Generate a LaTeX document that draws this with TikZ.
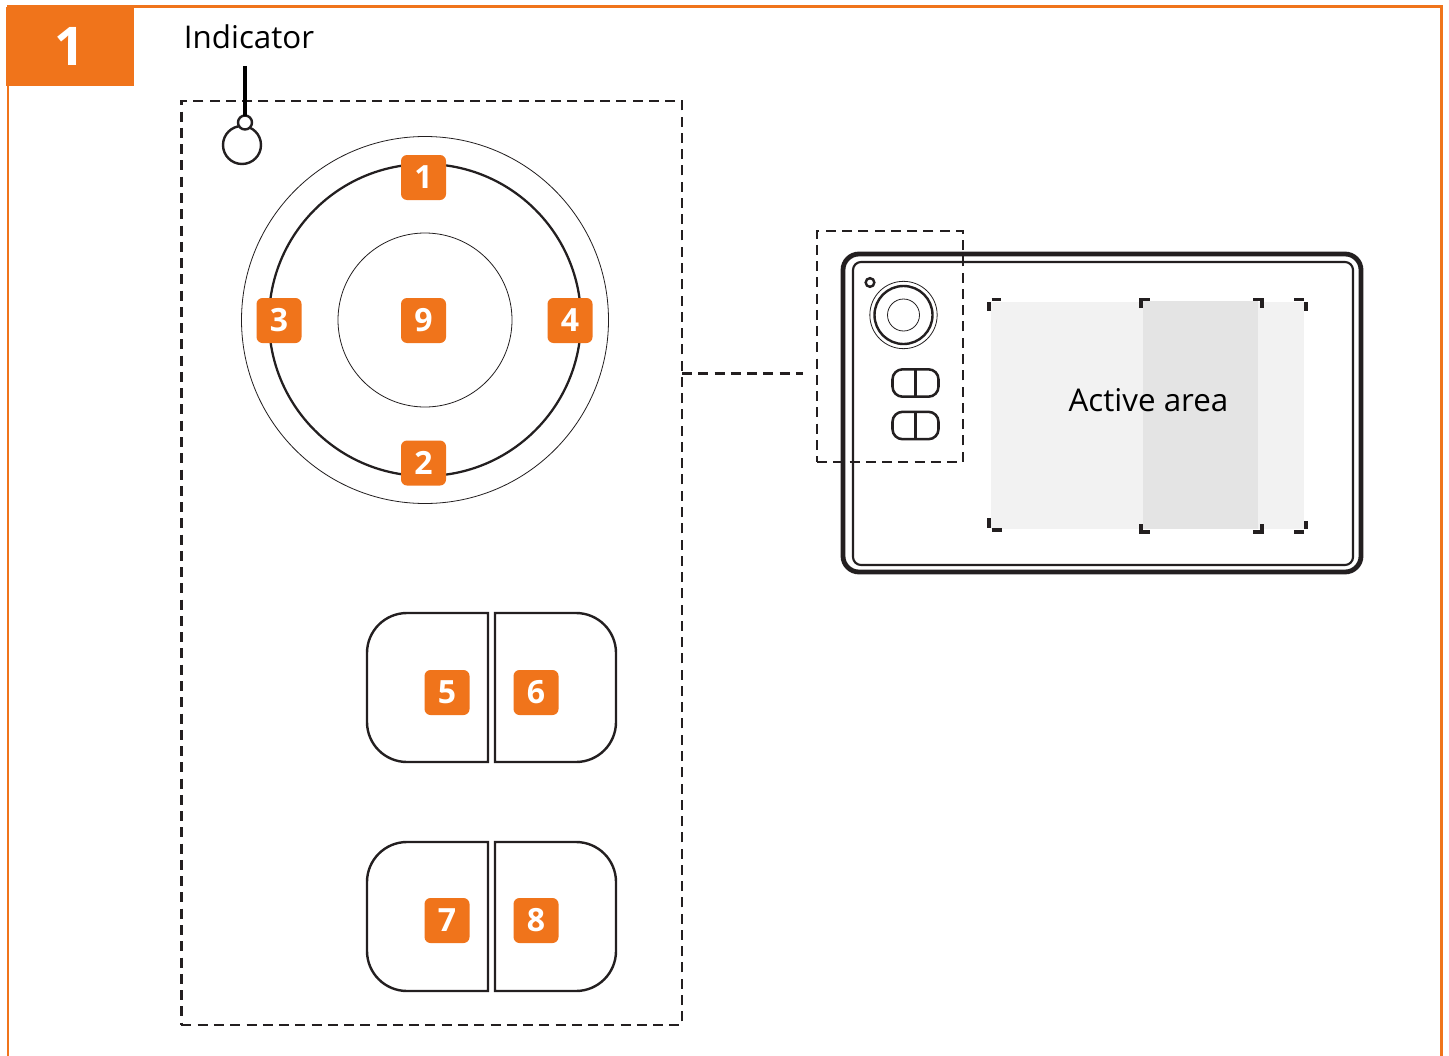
\documentclass[tikz,border=0pt]{standalone}
\usepackage{fontspec}
\setmainfont{Open Sans}
\definecolor{brand}{HTML}{F0741B}
\definecolor{ink}{HTML}{231F20}
\definecolor{areaLight}{HTML}{F2F2F2}
\definecolor{areaDark}{HTML}{E4E4E4}
\newcommand{\dg}[1]{\raisebox{-0.7pt}{#1}}
\tikzset{
  px/.style={x=0.75pt,y=-0.75pt},
  badge/.style={fill=brand,rounded corners=4.5pt,minimum size=33.75pt,inner sep=0pt,outer sep=0pt,text=white,font=\fontsize{24}{24}\selectfont\bfseries},
  ring/.style={circle,draw=ink,inner sep=0pt,outer sep=0pt},
  thinline/.style={draw=ink,line width=0.6pt},
  midline/.style={draw=ink,line width=1.7pt},
  dashbox/.style={draw=ink,line width=2pt,dash pattern=on 7.5pt off 4.7pt,inner sep=0pt,outer sep=0pt},
  halfbtn/.style={draw=ink,line width=1.8pt,line join=miter},
  minibtn/.style={draw=ink,line width=1.9pt,rounded corners=7.5pt,inner sep=0pt,outer sep=0pt,minimum width=34.5pt,minimum height=20.5pt},
  tick/.style={draw=ink,line width=2.5pt},
  label/.style={text=black,font=\fontsize{23.5}{24}\selectfont,inner sep=0pt},
}
\begin{document}
\begin{tikzpicture}[px]
\useasboundingbox (0,0) rectangle (1449,1056);
\fill[white] (0,0) rectangle (1449,1056);
% frame
\draw[brand,line width=2.1pt] (8,1056) -- (8,6.7) -- (1441.5,6.7) -- (1441.5,1056);
\node[fill=brand,inner sep=0pt,outer sep=0pt,minimum width=96pt,minimum height=59.25pt,text=white,font=\fontsize{40}{40}\selectfont\bfseries] (tab) at (70,46.5) {\raisebox{-0.7pt}{1}};
\node[label] (indlabel) at (249,37) {Indicator};
% main dashed box
\node[dashbox,minimum width=375.4pt,minimum height=693pt] (mainbox) at (431.7,563) {};
% indicator
\node[ring,line width=1.8pt,minimum size=28.5pt] (led) at (242,145) {};
\node[ring,line width=1.8pt,fill=white,minimum size=10.5pt] (ledtip) at (245,122.5) {};
\coordinate (ledtop) at (245,66);
\draw[black,line width=2.6pt] (ledtop) -- (ledtip);
% dial
\node[ring,thinline,minimum size=275.25pt] (dialouter) at (425,320) {};
\node[ring,midline,minimum size=234pt] (dialmid) at (425,320) {};
\node[ring,thinline,minimum size=130.5pt] (dialinner) at (425,320) {};
\node[badge] (b1) at (423.5,177.5) {\dg{1}};
\node[badge] (b3) at (279,320.5) {\dg{3}};
\node[badge] (b9) at (423.5,320.5) {\dg{9}};
\node[badge] (b4) at (570,320.5) {\dg{4}};
\node[badge] (b2) at (423.5,463) {\dg{2}};
% large buttons
\draw[halfbtn] (488,613) -- (488,762) -- (407,762) arc[start angle=270,end angle=180,radius=30pt] -- (367,653) arc[start angle=180,end angle=90,radius=30pt] -- cycle;
\draw[halfbtn] (495,613) -- (495,762) -- (576,762) arc[start angle=270,end angle=360,radius=30pt] -- (616,653) arc[start angle=0,end angle=90,radius=30pt] -- cycle;
\draw[halfbtn] (488,842) -- (488,991) -- (407,991) arc[start angle=270,end angle=180,radius=30pt] -- (367,882) arc[start angle=180,end angle=90,radius=30pt] -- cycle;
\draw[halfbtn] (495,842) -- (495,991) -- (576,991) arc[start angle=270,end angle=360,radius=30pt] -- (616,882) arc[start angle=0,end angle=90,radius=30pt] -- cycle;
\node[badge] (b5) at (447,692.5) {\dg{5}};
\node[badge] (b6) at (536,692.5) {\dg{6}};
\node[badge] (b7) at (447,920.5) {\dg{7}};
\node[badge] (b8) at (536,920.5) {\dg{8}};
% device
\node[draw=ink,line width=3.6pt,rounded corners=12pt,inner sep=0pt,outer sep=0pt,minimum width=388.5pt,minimum height=238.5pt] (devouter) at (1102,413) {};
\node[draw=ink,line width=1.6pt,rounded corners=6pt,inner sep=0pt,outer sep=0pt,minimum width=375pt,minimum height=227.25pt] (devinner) at (1103,413.5) {};
% active area
\fill[areaLight] (991,302) rectangle (1304,529);
\fill[areaDark] (1143,301) rectangle (1258,529);
\node[label] (active) at (1148.5,400) {Active area};
% outer brackets
\draw[tick] (989,302) -- (989,311);
\draw[tick] (991.5,299.5) -- (1001,299.5);
\draw[tick] (1294,299.5) -- (1304,299.5);
\draw[tick] (1306,302) -- (1306,311);
\draw[tick] (1306,521) -- (1306,529);
\draw[tick] (1294,532) -- (1304,532);
\draw[tick] (989,518) -- (989,528);
\draw[tick] (992,530) -- (1002,530);
% inner brackets
\draw[tick] (1141,308) -- (1141,299.5) -- (1150,299.5);
\draw[tick] (1253,299.5) -- (1262,299.5) -- (1262,308);
\draw[tick] (1141,524) -- (1141,532) -- (1150,532);
\draw[tick] (1253,532) -- (1262,532) -- (1262,524);
% mini controls
\node[ring,line width=1.8pt,minimum size=6.5pt] (miniled) at (870,282.5) {};
\node[ring,thinline,minimum size=50.5pt] (minidialouter) at (903.5,315) {};
\node[ring,line width=1.8pt,minimum size=43.5pt] (minidialmid) at (903.5,315) {};
\node[ring,thinline,minimum size=24pt] (minidialinner) at (903.5,315) {};
\node[minibtn] (minitop) at (915.5,383) {};
\node[minibtn] (minibot) at (915.5,425.5) {};
\draw[ink,line width=2.2pt] (minitop.north) -- (minitop.south);
\draw[ink,line width=2.2pt] (minibot.north) -- (minibot.south);
% callout
\node[dashbox,minimum width=109.5pt,minimum height=173.25pt] (calloutbox) at (890,346.5) {};
\coordinate (calloutfrom) at (682,373.5);
\coordinate (calloutto) at (803,373.5);
\draw[ink,line width=1.8pt,dash pattern=on 7.5pt off 4.7pt] (calloutfrom) -- (calloutto);
\end{tikzpicture}
\end{document}
